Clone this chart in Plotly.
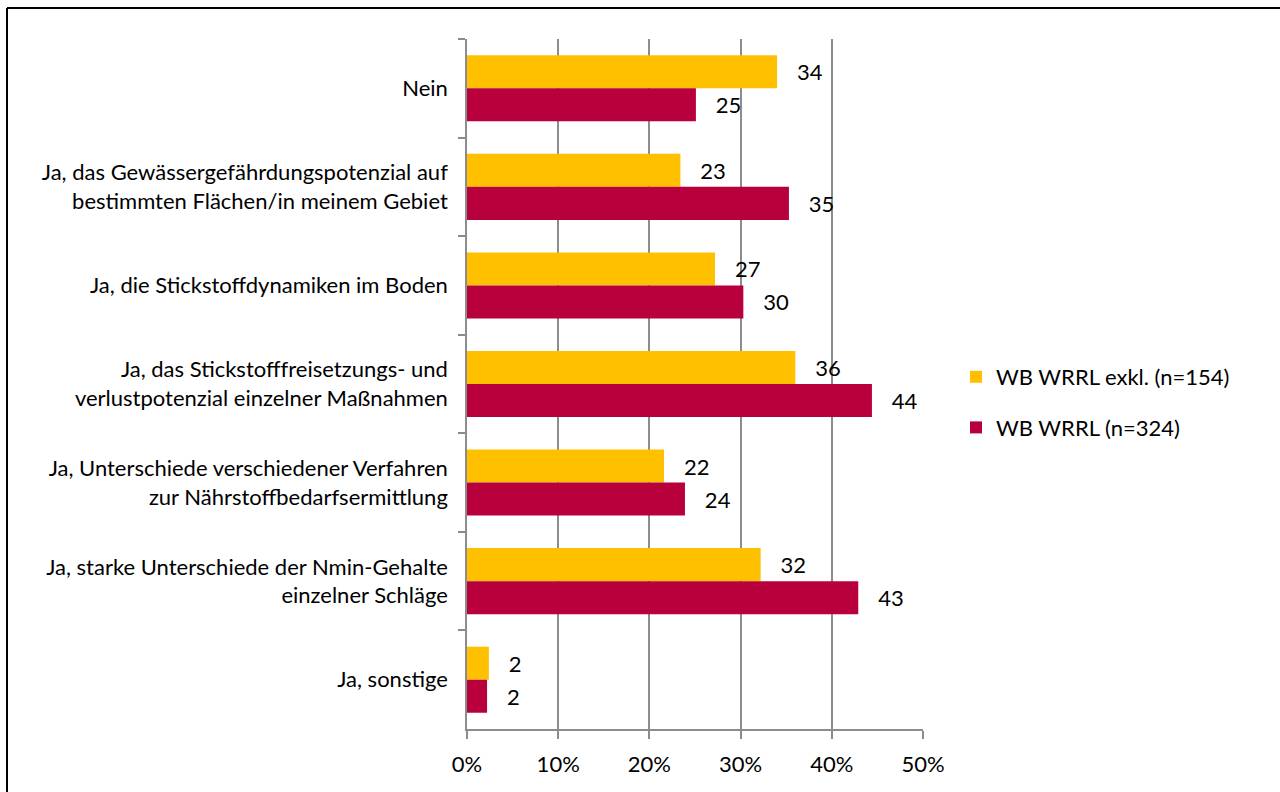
import plotly.graph_objects as go

categories = [
    "Nein",
    "Ja, das Gewässergefährdungspotenzial auf<br>bestimmten Flächen/in meinem Gebiet",
    "Ja, die Stickstoffdynamiken im Boden",
    "Ja, das Stickstofffreisetzungs- und<br>verlustpotenzial einzelner Maßnahmen",
    "Ja, Unterschiede verschiedener Verfahren<br>zur Nährstoffbedarfsermittlung",
    "Ja, starke Unterschiede der Nmin-Gehalte<br>einzelner Schläge",
    "Ja, sonstige",
]
series_names = ["WB WRRL exkl. (n=154)", "WB WRRL (n=324)"]
exkl_values = [34.0, 23.4, 27.2, 36.0, 21.6, 32.2, 2.4]
wrrl_values = [25.1, 35.3, 30.3, 44.4, 23.9, 42.9, 2.2]
exkl_labels = [34, 23, 27, 36, 22, 32, 2]
wrrl_labels = [25, 35, 30, 44, 24, 43, 2]
x_ticks = [0, 10, 20, 30, 40, 50]
x_ticklabels = ["0%", "10%", "20%", "30%", "40%", "50%"]

W, H = 1280, 792
L, R, T, B = 467, 923, 39, 729
FONT = "Lato"
FS = 22
GRID = "#8c8c8c"

fig = go.Figure()
for name, vals, labs, col in [
    (series_names[0], exkl_values, exkl_labels, "#FFC000"),
    (series_names[1], wrrl_values, wrrl_labels, "#B8003C"),
]:
    fig.add_trace(go.Bar(
        y=categories, x=vals, orientation="h", name=name,
        marker=dict(color=col, line=dict(width=0)),
        text=["\u00a0\u00a0\u00a0" + str(v) for v in labs],
        textposition="outside", cliponaxis=False,
        textfont=dict(family=FONT, size=FS, color="#000000"),
        legendgroup=name,
    ))

def px(xp):
    return (xp - L) / (R - L)

def py(yp):
    return (B - yp) / (B - T)

fig.update_layout(
    width=W, height=H,
    margin=dict(l=L, r=W - R, t=T, b=H - B, pad=0),
    paper_bgcolor="white", plot_bgcolor="white",
    barmode="group", bargap=0.33, bargroupgap=0,
    font=dict(family=FONT, size=FS, color="#000000"),
    legend=dict(
        x=px(956), xanchor="left", y=py(402.5), yanchor="middle",
        font=dict(family=FONT, size=FS, color="#000000"),
        tracegroupgap=19, traceorder="grouped",
        bgcolor="rgba(0,0,0,0)",
    ),
    xaxis=dict(
        range=[0, 50], tickvals=x_ticks, ticktext=x_ticklabels,
        showgrid=True, gridcolor=GRID, gridwidth=1.5,
        showline=True, linecolor=GRID, linewidth=1.5,
        ticks="outside", ticklen=8, tickcolor=GRID, tickwidth=1.5,
        ticklabelstandoff=7, zeroline=False, fixedrange=True,
        tickfont=dict(family=FONT, size=FS),
    ),
    yaxis=dict(
        autorange="reversed", type="category",
        showline=True, linecolor=GRID, linewidth=1.5,
        ticks="outside", ticklen=7, tickcolor=GRID, tickwidth=1.5,
        tickson="boundaries", showgrid=False,
        ticklabelstandoff=13, fixedrange=True,
        tickfont=dict(family=FONT, size=FS),
    ),
    shapes=[
        dict(type="line", xref="paper", yref="paper",
             x0=px(7), x1=px(7), y0=py(8), y1=py(792),
             line=dict(color="black", width=2)),
        dict(type="line", xref="paper", yref="paper",
             x0=px(7), x1=px(1280), y0=py(8), y1=py(8),
             line=dict(color="black", width=2)),
    ],
)

fig.write_html(
    "out.html",
    config={"displayModeBar": False},
    post_script="document.body.style.margin='0';document.body.style.overflow='hidden';",
)
